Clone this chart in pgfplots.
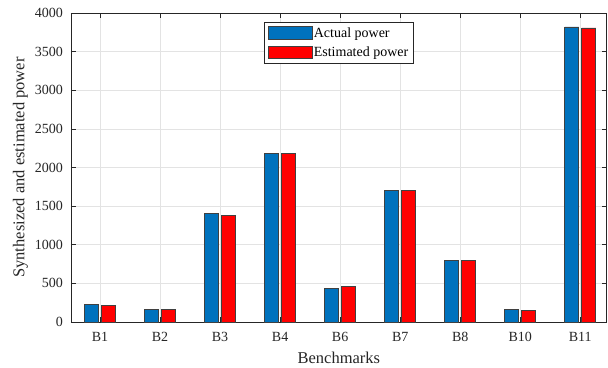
\documentclass[border=0pt]{standalone}
\usepackage{pgfplots}
\pgfplotsset{compat=1.18}
\usetikzlibrary{calc}
\usepackage{fontspec}
\setmainfont{Liberation Serif}
\definecolor{mblue}{rgb}{0,0.447,0.741}
\definecolor{mred}{rgb}{1,0,0}
\definecolor{axgray}{rgb}{0.15,0.15,0.15}
\pgfplotstableread{
x actual estimated
1 228 211
2 160 168
3 1401 1375
4 2185 2185
5 431 457
6 1698 1703
7 793 802
8 164 155
9 3819 3806
}\datatable
\begin{document}
\begin{tikzpicture}
\begin{axis}[
  name=main,
  scale only axis,
  width=535.7pt, height=309pt,
  ybar=3pt, bar width=14pt,
  xmin=0.517, xmax=9.44,
  ymin=0, ymax=4000,
  xtick={1,...,9},
  xticklabels={B1,B2,B3,B4,B6,B7,B8,B10,B11},
  ytick={0,500,...,4000},
  /pgf/number format/1000 sep={},
  /pgf/number format/assume math mode=true,
  tick label style={font=\fontsize{14}{16}\selectfont, text=axgray},
  xticklabel style={anchor=base, yshift=-19.7pt},
  yticklabel style={anchor=east, inner xsep=0pt, xshift=-8pt},
  xlabel={Benchmarks},
  ylabel={Synthesized and estimated power},
  every axis x label/.style={at={(axis description cs:0.5,-0.1327)}, anchor=base,
    font=\fontsize{16.5}{18}\selectfont, text=axgray},
  every axis y label/.style={at={(axis description cs:-0.0943,0.5)}, anchor=center, rotate=90,
    font=\fontsize{16.5}{18}\selectfont, text=axgray},
  tick align=inside,
  major tick length=5pt,
  tick style={axgray, line width=0.7pt},
  axis line style={axgray, line width=0.9pt},
  grid=major,
  grid style={gray!22, line width=0.6pt},
  legend style={at={(0.3608,0.9709)}, anchor=north west,
    font=\fontsize{14}{16}\selectfont, draw=axgray, line width=0.7pt,
    inner xsep=3.5pt, inner ysep=4pt, row sep=6pt, column sep=0pt,
    nodes={inner ysep=1pt, inner xsep=1.2pt},
    cells={anchor=west}},
  legend image code/.code={\draw[#1] (0pt,-6.3pt) rectangle (43.7pt,6.3pt);},
]
\addplot[fill=mblue, draw=black!75, line width=0.8pt] table[x=x, y=actual] {\datatable};
\addlegendentry{Actual power}
\addplot[fill=mred, draw=black!75, line width=0.8pt] table[x=x, y=estimated] {\datatable};
\addlegendentry{Estimated power}
\end{axis}
\path (main.south west) ++(-71pt,-45pt) rectangle ($(main.north east)+(1.3pt,13pt)$);
\end{tikzpicture}
\end{document}
